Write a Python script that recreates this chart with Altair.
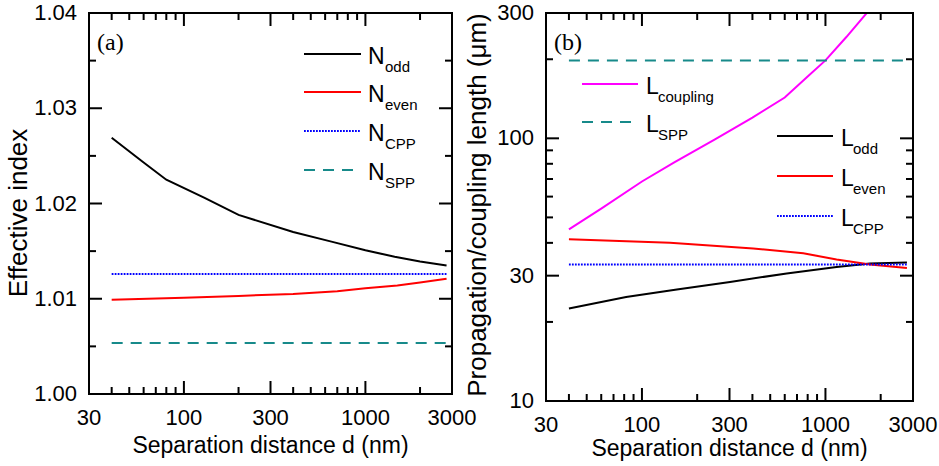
import math
import altair as alt
import pandas as pd

# ---------------- data: panel (a) ----------------
d_n_odd = [40, 60, 80, 130, 200, 400, 650, 1000, 1450, 2000, 2800]
n_odd = [1.0269, 1.0243, 1.0225, 1.0206, 1.0188, 1.0170, 1.0160, 1.0151, 1.0144, 1.0139, 1.0135]
d_n_even = [40, 100, 200, 400, 700, 1000, 1500, 2000, 2800]
n_even = [1.0099, 1.0101, 1.0103, 1.0105, 1.0108, 1.0111, 1.0114, 1.0117, 1.0121]
d_flat = [40, 2800]
n_cpp = [1.0126, 1.0126]
n_spp = [1.00535, 1.00535]

# ---------------- data: panel (b) ----------------
d_l_coup = [40, 60, 100, 150, 250, 400, 600, 800, 1000, 1300, 1700]
l_coup = [45.0, 54.0, 68.5, 81.0, 99.0, 120.0, 143.0, 172.0, 198.0, 243.0, 303.0]
d_l_odd = [40, 82, 155, 302, 615, 1150, 1750, 2780]
l_odd = [22.5, 24.9, 26.6, 28.4, 30.6, 32.4, 33.4, 33.7]
d_l_even = [40, 142, 404, 757, 1150, 1750, 2780]
l_even = [41.3, 40.0, 38.1, 36.5, 34.6, 33.1, 32.1]
l_cpp = [33.1, 33.1]
l_spp = [198, 198]

# ---------------- tick values / labels ----------------
x_labels = [30, 100, 300, 1000, 3000]
x_major = [100, 300, 1000]
x_minor = [40, 50, 60, 70, 80, 90, 200, 400, 500, 600, 700, 800, 900, 2000]
ya_labels = [1.00, 1.01, 1.02, 1.03, 1.04]
ya_major = [1.01, 1.02, 1.03]
ya_minor = [1.005, 1.015, 1.025, 1.035]
yb_labels = [10, 30, 100, 300]
yb_major = [30, 100]
yb_minor = [20, 40, 50, 60, 70, 80, 90, 200]
x_title = "Separation distance d (nm)"
ya_title = "Effective index"
yb_title = "Propagation/coupling length (μm)"

BLACK = "#000000"
RED = "#ff0000"
BLUE = "#0000ff"
TEAL = "#178a8a"
MAGENTA = "#ff00ff"
DOT = [1.8, 1.2]
DASH = [11, 8]
SANS = "Liberation Sans"
SERIF = "Liberation Serif"
MAJ, MIN = 12, 6


def line(d, v, color, xs, ys, dash=None):
    df = pd.DataFrame({"d": d, "v": v})
    kw = dict(color=color, strokeWidth=2, clip=True)
    if dash:
        kw["strokeDash"] = dash
    return alt.Chart(df).mark_line(**kw).encode(
        x=alt.X("d:Q", scale=xs, axis=None),
        y=alt.Y("v:Q", scale=ys, axis=None),
    )


def frame_and_ticks(W, H, xs, ys, xdom, ydom, ylog, xmaj, xmin, ymaj, ymin):
    """Plot frame plus inward ticks, as line segments through the panel's scales."""
    xr = math.log10(xdom[1] / xdom[0])
    yr = math.log10(ydom[1] / ydom[0]) if ylog else (ydom[1] - ydom[0])

    def ylo(px):
        return ydom[0] * 10 ** (px * yr / H) if ylog else ydom[0] + px * yr / H

    def yhi(px):
        return ydom[1] / 10 ** (px * yr / H) if ylog else ydom[1] - px * yr / H

    def xlo(px):
        return xdom[0] * 10 ** (px * xr / W)

    def xhi(px):
        return xdom[1] / 10 ** (px * xr / W)

    rows = []
    seg = 0
    corners = [(xdom[0], ydom[0]), (xdom[1], ydom[0]), (xdom[1], ydom[1]),
               (xdom[0], ydom[1]), (xdom[0], ydom[0])]
    for o, (a, b) in enumerate(corners):
        rows.append({"d": a, "v": b, "seg": seg, "o": o})
    for vals, ln in ((xmaj, MAJ), (xmin, MIN)):
        for t in vals:
            for p0, p1 in ((ylo(0), ylo(ln)), (yhi(0), yhi(ln))):
                seg += 1
                rows.append({"d": t, "v": p0, "seg": seg, "o": 0})
                rows.append({"d": t, "v": p1, "seg": seg, "o": 1})
    for vals, ln in ((ymaj, MAJ), (ymin, MIN)):
        for t in vals:
            for p0, p1 in ((xlo(0), xlo(ln)), (xhi(0), xhi(ln))):
                seg += 1
                rows.append({"d": p0, "v": t, "seg": seg, "o": 0})
                rows.append({"d": p1, "v": t, "seg": seg, "o": 1})
    df = pd.DataFrame(rows)
    return alt.Chart(df).mark_line(color=BLACK, strokeWidth=2, strokeCap="square").encode(
        x=alt.X("d:Q", scale=xs, axis=None),
        y=alt.Y("v:Q", scale=ys, axis=None),
        detail="seg:N",
        order="o:Q",
    )


def axis_text(W, H, xs, ys, ylabels, yfmt, ytitle, ytitle_x, ytitle_y, xtitle_dy):
    out = []
    out.append(alt.Chart(pd.DataFrame({"d": x_labels})).mark_text(
        font=SANS, fontSize=22, align="center", baseline="top", color=BLACK
    ).encode(x=alt.X("d:Q", scale=xs, axis=None), y=alt.value(H + 14),
             text=alt.Text("d:Q", format="d")))
    out.append(alt.Chart(pd.DataFrame({"v": ylabels})).mark_text(
        font=SANS, fontSize=22, align="right", baseline="middle", color=BLACK
    ).encode(y=alt.Y("v:Q", scale=ys, axis=None), x=alt.value(-12),
             text=alt.Text("v:Q", format=yfmt)))
    out.append(alt.Chart(pd.DataFrame({"t": [x_title]})).mark_text(
        font=SANS, fontSize=23, align="center", baseline="alphabetic", color=BLACK
    ).encode(x=alt.value(W / 2), y=alt.value(H + xtitle_dy), text="t:N"))
    out.append(alt.Chart(pd.DataFrame({"t": [ytitle]})).mark_text(
        font=SANS, fontSize=26, align="center", baseline="alphabetic", angle=270,
        color=BLACK
    ).encode(x=alt.value(ytitle_x), y=alt.value(ytitle_y), text="t:N"))
    return out


def legend(items, main_dx):
    out = []
    one = pd.DataFrame({"k": [0]})
    for (x0, x1, y, color, dash, main, sub, tx) in items:
        kw = dict(color=color, strokeWidth=2)
        if dash:
            kw["strokeDash"] = dash
        out.append(alt.Chart(one).mark_rule(**kw).encode(
            x=alt.value(x0), x2=alt.value(x1), y=alt.value(y)))
        out.append(alt.Chart(pd.DataFrame({"t": [main]})).mark_text(
            font=SANS, fontSize=23, align="left", baseline="alphabetic", color=BLACK
        ).encode(x=alt.value(tx), y=alt.value(y + 10), text="t:N"))
        out.append(alt.Chart(pd.DataFrame({"t": [sub]})).mark_text(
            font=SANS, fontSize=15, align="left", baseline="alphabetic", color=BLACK
        ).encode(x=alt.value(tx + main_dx), y=alt.value(y + 18), text="t:N"))
    return out


def panel_label(txt):
    return alt.Chart(pd.DataFrame({"t": [txt]})).mark_text(
        font=SERIF, fontSize=24, align="left", baseline="alphabetic", color=BLACK
    ).encode(x=alt.value(8), y=alt.value(37), text="t:N")


# ---------------- panel (a) ----------------
W1, H1 = 363, 381
xdom = [30, 3000]
ydom_a = [1.0, 1.04]
xs1 = alt.Scale(type="log", domain=xdom, nice=False)
ys1 = alt.Scale(domain=ydom_a, nice=False, zero=False)

layers_a = [line(d_n_odd, n_odd, BLACK, xs1, ys1),
            line(d_n_even, n_even, RED, xs1, ys1),
            line(d_flat, n_cpp, BLUE, xs1, ys1, DOT),
            line(d_flat, n_spp, TEAL, xs1, ys1, DASH),
            frame_and_ticks(W1, H1, xs1, ys1, xdom, ydom_a, False,
                            x_major, x_minor, ya_major, ya_minor)]
layers_a += axis_text(W1, H1, xs1, ys1, ya_labels, ".2f", ya_title, -62, 200, 59)
layers_a += legend([
    (215, 272, 41, BLACK, None, "N", "odd", 279),
    (215, 272, 79, RED, None, "N", "even", 279),
    (215, 272, 118, BLUE, DOT, "N", "CPP", 279),
    (215, 272, 157, TEAL, DASH, "N", "SPP", 279),
], 17)
layers_a.append(panel_label("(a)"))
panel_a = alt.layer(*layers_a).properties(width=W1, height=H1)

# ---------------- panel (b) ----------------
W2, H2 = 367, 388
ydom_b = [10, 300]
xs2 = alt.Scale(type="log", domain=xdom, nice=False)
ys2 = alt.Scale(type="log", domain=ydom_b, nice=False)

layers_b = [line(d_l_coup, l_coup, MAGENTA, xs2, ys2),
            line(d_flat, l_spp, TEAL, xs2, ys2, DASH),
            line(d_l_odd, l_odd, BLACK, xs2, ys2),
            line(d_l_even, l_even, RED, xs2, ys2),
            line(d_flat, l_cpp, BLUE, xs2, ys2, DOT),
            frame_and_ticks(W2, H2, xs2, ys2, xdom, ydom_b, True,
                            x_major, x_minor, yb_major, yb_minor)]
layers_b += axis_text(W2, H2, xs2, ys2, yb_labels, "d", yb_title, -60, 192, 55)
layers_b += legend([
    (36, 92, 71, MAGENTA, None, "L", "coupling", 100),
    (36, 92, 109, TEAL, DASH, "L", "SPP", 100),
    (231, 287, 123, BLACK, None, "L", "odd", 295),
    (231, 287, 163, RED, None, "L", "even", 295),
    (231, 287, 203, BLUE, DOT, "L", "CPP", 295),
], 12)
layers_b.append(panel_label("(b)"))
panel_b = alt.layer(*layers_b).properties(width=W2, height=H2)

chart = alt.hconcat(panel_a, panel_b, spacing=94, bounds="flush").properties(
    padding={"left": 6, "top": 2, "right": 0, "bottom": 0},
    background="white",
).configure_view(stroke=None)

chart.save("out.html", embed_options={"renderer": "svg", "actions": False})
